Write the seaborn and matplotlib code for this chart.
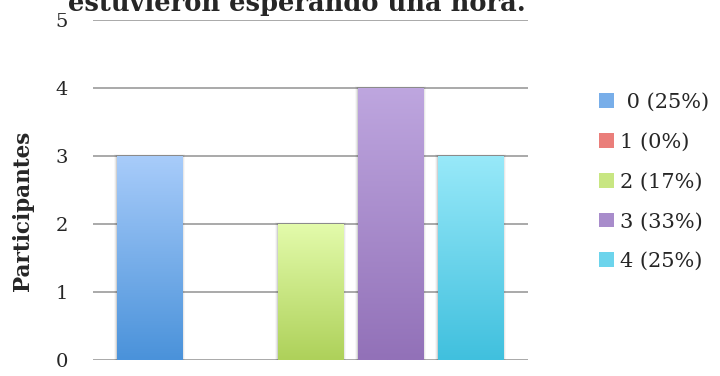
import numpy as np
import pandas as pd
import matplotlib
matplotlib.use("Agg")
import matplotlib.pyplot as plt
import seaborn as sns
from matplotlib.patches import Patch
from matplotlib.colors import LinearSegmentedColormap

categories = ["0", "1", "2", "3", "4"]
values = [3, 0, 2, 4, 3]
legend_labels = [" 0 (25%)", "1 (0%)", "2 (17%)", "3 (33%)", "4 (25%)"]
title_text = "estuvieron esperando una hora."
ylabel_text = "Participantes"
yticks = [0, 1, 2, 3, 4, 5]

top_colors = ["#a8ccfa", "#f7aaa6", "#e3fbab", "#bea6df", "#98e9f9"]
bottom_colors = ["#4a92da", "#d8544f", "#aed15a", "#9271b8", "#40c0de"]
mid_colors = ["#78aee9", "#ea7e7a", "#c8e682", "#a88ccb", "#6cd4ec"]

sns.set_theme(style="white")
plt.rcParams["font.family"] = ["DejaVu Serif", "Liberation Serif"]

fig = plt.figure(figsize=(7.2, 3.76), dpi=100)
ax = fig.add_axes([93/720, 16/376, 435/720, 340/376])

df = pd.DataFrame({"cat": categories, "val": values})
sns.barplot(data=df, x="cat", y="val", hue="cat", palette=mid_colors,
            legend=False, width=0.81, ax=ax, zorder=3, linewidth=0)

grad = np.linspace(1, 0, 256).reshape(-1, 1)
for patch, tc, bc in zip(ax.patches, top_colors, bottom_colors):
    x0, y0 = patch.get_x(), patch.get_y()
    w, h = patch.get_width(), patch.get_height()
    if h <= 0:
        continue
    cmap = LinearSegmentedColormap.from_list("g", [bc, tc])
    im = ax.imshow(grad, cmap=cmap, aspect="auto",
                   extent=(x0, x0 + w, y0, y0 + h), zorder=4, vmin=0, vmax=1)
    im.set_clip_path(patch)
    for k, a in enumerate([0.10, 0.06, 0.03]):
        ax.add_patch(plt.Rectangle((x0 - 0.012 * (k + 1), y0), w + 0.024 * (k + 1),
                                   h + 0.01 * (k + 1), color="black", alpha=a,
                                   zorder=2.5, linewidth=0))

ax.set_xlim(-0.70, 4.71)
ax.set_ylim(0, 5)
ax.set_yticks(yticks)
ax.set_yticklabels([str(t) for t in yticks], fontsize=14)
ax.set_xticks([])
ax.set_xlabel("")
ax.set_ylabel("")
ax.tick_params(axis="y", length=0, pad=18)
for s in ax.spines.values():
    s.set_visible(False)
for t in yticks:
    ax.axhline(t, color="#a3a3a3", lw=1.3, zorder=1)
ax.set_facecolor("none")

fig.text(297/720, 1 - 11.5/376, title_text, ha="center", va="baseline",
         fontsize=18.5, fontweight="bold")
fig.text(23/720, 1 - 211/376, ylabel_text, rotation=90, ha="center", va="center",
         fontsize=15.5, fontweight="bold")

handles = [Patch(facecolor=c, edgecolor="none") for c in mid_colors]
fig.legend(handles, legend_labels, loc="center left",
           bbox_to_anchor=(599/720, 1 - 182/376), frameon=False,
           fontsize=15, handlelength=0.72, handleheight=0.72,
           handletextpad=0.3, labelspacing=1.0, borderpad=0, borderaxespad=0)

fig.savefig("out.png", dpi=100)
